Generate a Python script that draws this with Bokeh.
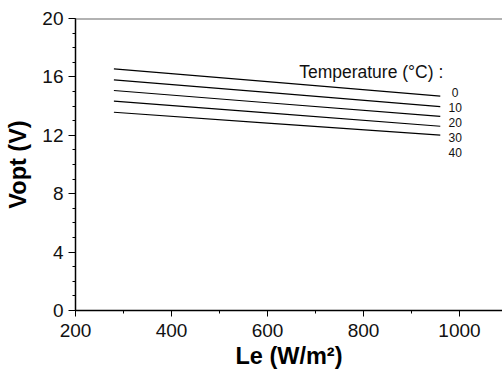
from bokeh.plotting import figure
from bokeh.models import SingleIntervalTicker, Span, Range1d
from bokeh.core.properties import value
from bokeh.embed import file_html
from bokeh.resources import INLINE

# ---- data ----
le = [280, 600, 960]                      # W/m²
temperatures = [0, 10, 20, 30, 40]        # °C
vopt_0 = [16.55, 15.67, 14.68]
vopt_10 = [15.80, 14.94, 13.97]
vopt_20 = [15.07, 14.23, 13.29]
vopt_30 = [14.34, 13.53, 12.62]
vopt_40 = [13.58, 12.84, 12.01]
series = [vopt_0, vopt_10, vopt_20, vopt_30, vopt_40]

x_ticks_interval = 200
y_ticks_interval = 4

# ---- layout of annotations (data coords) ----
legend_title = "Temperature (°C) :"
title_x, title_y = 666, 16.32
label_x = 991
label_y = [14.95, 13.92, 12.90, 11.87, 10.84]

FONT = "Liberation Sans"

p = figure(width=502, height=372, output_backend="svg", toolbar_location=None,
           x_range=Range1d(200, 1089.6), y_range=Range1d(0, 20),
           min_border_left=75, min_border_right=0, min_border_top=18, min_border_bottom=62)
p.background_fill_color = "white"
p.border_fill_color = "white"
p.outline_line_color = None
p.grid.visible = False

for ys in series:
    p.line(le, ys, line_color="black", line_width=1.2)

p.text(x=[title_x], y=[title_y], text=[legend_title], text_font=value(FONT),
       text_font_size=value("17.5px"), text_align="left", text_baseline="middle",
       text_color="#111111")
p.text(x=[label_x] * len(temperatures), y=label_y, text=[str(t) for t in temperatures],
       text_font=value(FONT), text_font_size=value("12px"), text_align="center",
       text_baseline="middle", text_color="#111111")

p.add_layout(Span(location=20, dimension="width", line_color="#666666", line_width=2))

# axes
p.xaxis.ticker = SingleIntervalTicker(interval=x_ticks_interval, num_minor_ticks=2)
p.yaxis.ticker = SingleIntervalTicker(interval=y_ticks_interval, num_minor_ticks=4)
for ax in (p.xaxis[0], p.yaxis[0]):
    ax.axis_line_color = "black"
    ax.axis_line_width = 1.5
    ax.major_tick_line_color = "black"
    ax.minor_tick_line_color = "black"
    ax.major_tick_in = 0
    ax.minor_tick_in = 0
    ax.minor_tick_out = 3
    ax.major_label_text_font = FONT
    ax.major_label_text_font_size = "19px"
    ax.major_label_text_color = "#111111"
    ax.axis_label_text_font = FONT
    ax.axis_label_text_font_size = "23.5px"
    ax.axis_label_text_font_style = "bold"
    ax.axis_label_text_color = "black"

p.xaxis.axis_label = "Le (W/m²)"
p.yaxis.axis_label = "Vopt (V)"
p.xaxis.major_tick_out = 6
p.yaxis.major_tick_out = 7
p.xaxis.major_label_standoff = 7
p.yaxis.major_label_standoff = 5
p.xaxis.axis_label_standoff = 3
p.yaxis.axis_label_standoff = 8

open("out.html", "w").write(file_html(p, INLINE))
